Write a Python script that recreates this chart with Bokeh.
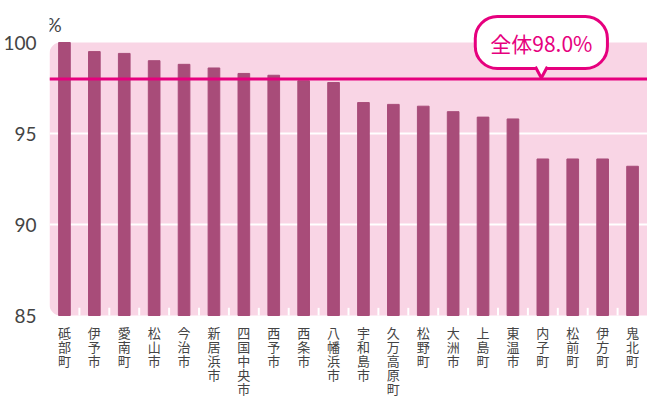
from bokeh.plotting import figure
from bokeh.models import (ColumnDataSource, FactorRange, Range1d, FixedTicker, Span,
                          BoxAnnotation, Label)
from bokeh.core.properties import value
from bokeh.embed import file_html
from bokeh.resources import INLINE

# ---- data ----
cities = ["砥部町", "伊予市", "愛南町", "松山市", "今治市", "新居浜市", "四国中央市", "西予市",
          "西条市", "八幡浜市", "宇和島市", "久万高原町", "松野町", "大洲市", "上島町", "東温市",
          "内子町", "松前町", "伊方町", "鬼北町"]
rates = [100.0, 99.5, 99.4, 99.0, 98.8, 98.6, 98.3, 98.2, 97.9, 97.8,
         96.7, 96.6, 96.5, 96.2, 95.9, 95.8, 93.6, 93.6, 93.6, 93.2]
overall = 98.0
overall_text = "全体98.0%"
y_ticks = [85, 90, 95, 100]
y_unit = "%"

BAR = "#a84c79"
BG = "#f9d5e5"
MAG = "#e6007e"
TXT = "#444444"
CJK = "Noto Sans CJK JP"

# plot area spans the whole figure height; the pink panel covers 85..100
H = 397
PX_PER_UNIT = 18.2
y_hi = y_ticks[-1] + 42 / PX_PER_UNIT
y_lo = y_ticks[0] - (H - 315) / PX_PER_UNIT

p = figure(width=647, height=H, output_backend="svg", toolbar_location=None,
           x_range=FactorRange(*cities, range_padding=0),
           y_range=Range1d(y_lo, y_hi),
           min_border_left=37, min_border_right=0, min_border_top=0, min_border_bottom=0)
p.outline_line_color = None
p.background_fill_color = None
p.border_fill_color = "white"
p.xaxis.visible = False

# rounded pink backdrop
bg = BoxAnnotation(left=0, right=len(cities), bottom=y_ticks[0], top=y_ticks[-1],
                   fill_color=BG, fill_alpha=1, line_color=None,
                   border_radius=(11, 0, 0, 11), level="image")
p.add_layout(bg)

# grid (white, only inside the panel)
p.xgrid.visible = False
p.ygrid.ticker = FixedTicker(ticks=y_ticks[1:-1])
p.ygrid.grid_line_color = "white"
p.ygrid.grid_line_width = 2

src = ColumnDataSource(dict(city=cities, rate=rates))
p.vbar(x="city", top="rate", bottom=y_ticks[0], width=0.39, color=BAR, source=src)

# white category separators at the bottom
bx = list(range(1, len(cities)))
p.segment(x0=bx, x1=bx, y0=[y_ticks[0]] * len(bx), y1=[y_ticks[0] + 0.42] * len(bx),
          line_color="white", line_width=2)

# overall line
p.add_layout(Span(location=overall, dimension="width", line_color=MAG, line_width=3))

# y axis
p.yaxis.ticker = FixedTicker(ticks=y_ticks)
p.yaxis.axis_line_color = None
p.yaxis.major_tick_line_color = None
p.yaxis.minor_tick_line_color = None
p.yaxis.major_label_text_font = "Lato"
p.yaxis.major_label_text_font_size = "19px"
p.yaxis.major_label_text_color = TXT
p.yaxis.major_label_standoff = 7

# x labels: vertical Japanese labels, one character per row
lx, lch, loff = [], [], []
for c in cities:
    for k, ch in enumerate(c):
        lx.append(c)
        lch.append(ch)
        loff.append(7 + k * 14.2)
lsrc = ColumnDataSource(dict(x=lx, ch=lch, off=loff))
p.text(x="x", y=y_ticks[0], text="ch", y_offset="off", source=lsrc,
       text_font=value(CJK), text_font_size="13px", text_color=TXT,
       text_align="center", text_baseline="top")

# unit label
p.add_layout(Label(x=0, y=y_ticks[-1], x_offset=-3, y_offset=7, text=y_unit, text_font="Lato",
                   text_font_size="19px", text_color=TXT, text_baseline="bottom",
                   text_align="left"))

# callout
cx = cities.index("内子町") + 0.5 - 0.05
lab = Label(x=cx, y=y_ticks[-1], text=overall_text, text_font=CJK, text_font_size="21px",
            text_color=MAG, text_align="center", text_baseline="middle",
            background_fill_color="white", border_line_color=MAG, border_line_width=3,
            padding=dict(left=15, right=15, top=11, bottom=11), border_radius=22)
p.add_layout(lab)

tip_top = y_ticks[-1] - 1.33
ptr = p.patch(x=[cx - 0.2, cx, cx + 0.2], y=[tip_top + 0.12, overall + 0.05, tip_top + 0.12],
              fill_color="white", line_color=None)
ptr.level = "overlay"
ptl = p.line(x=[cx - 0.2, cx, cx + 0.2], y=[tip_top, overall + 0.05, tip_top],
             line_color=MAG, line_width=3)
ptl.level = "overlay"

open("out.html", "w").write(file_html(p, INLINE))
